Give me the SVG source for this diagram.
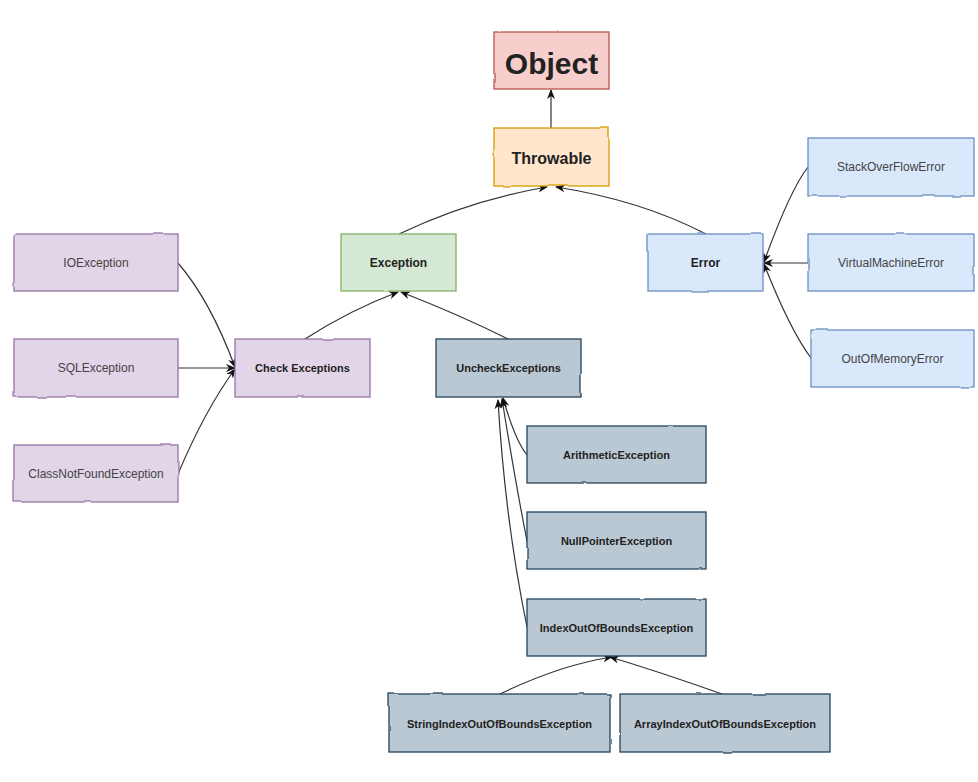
<svg xmlns="http://www.w3.org/2000/svg" width="978" height="782" viewBox="0 0 978 782">
<style>
.n{stroke-width:1.3;filter:url(#rough)}
.pink{fill:#f8cecc;stroke:#b85450}
.orange{fill:#ffe6cc;stroke:#d79b00}
.green{fill:#d5e8d4;stroke:#82b366}
.blue{fill:#dae8fc;stroke:#6c8ebf}
.purple{fill:#e1d5e7;stroke:#9673a6}
.slate{fill:#bac8d3;stroke:#23445d}
text{font-family:"Liberation Sans",Arial,sans-serif;fill:#222;text-anchor:middle;dominant-baseline:central}
.b{font-weight:bold;font-size:11px}
.r{font-size:12px;fill:#444}
.e path{fill:none;stroke:#333;stroke-width:1.2;marker-end:url(#arr)}
</style>
<defs>
<filter id="rough" x="-5%" y="-5%" width="110%" height="110%">
<feTurbulence type="fractalNoise" baseFrequency="0.035" numOctaves="1" seed="3"/>
<feDisplacementMap in="SourceGraphic" scale="2.5"/>
</filter>
<marker id="arr" viewBox="0 0 10 8" refX="9" refY="4" markerWidth="10" markerHeight="8" markerUnits="userSpaceOnUse" orient="auto">
<path d="M0,0 L10,4 L0,8 L3,4 z" fill="#111"/>
</marker>
</defs>
<rect width="978" height="782" fill="#fff"/>
<g class="e" id="connectors">
<path d="M551,128 L551,90"/>
<path d="M399,234 Q470,200 547,187"/>
<path d="M706,234 Q640,200 556,187"/>
<path d="M178,263 Q210,300 235,367"/>
<path d="M178,368 L235,368"/>
<path d="M178,474 Q205,410 235,369"/>
<path d="M305,339 Q350,310 398,292"/>
<path d="M508,339 Q460,315 401,292"/>
<path d="M527,455 Q515,440 503,398"/>
<path d="M527,541 Q515,480 502,399"/>
<path d="M527,627 Q505,520 498,400"/>
<path d="M500,694 Q560,665 612,657"/>
<path d="M722,694 Q660,672 610,657"/>
<path d="M808,167 Q790,190 764,262"/>
<path d="M808,263 L764,263"/>
<path d="M811,358 Q790,330 764,264"/>
</g>
<g id="object"><rect class="n pink" x="494" y="32" width="115" height="57"/><text x="551.5" y="63" style="font-weight:bold;font-size:30px">Object</text></g>
<g id="throwable"><rect class="n orange" x="494" y="128" width="115" height="58"/><text x="551.5" y="158" style="font-weight:bold;font-size:16px">Throwable</text></g>
<g id="exception"><rect class="n green" x="341" y="234" width="115" height="57"/><text class="b" x="398.5" y="263" style="font-size:12px">Exception</text></g>
<g id="error"><rect class="n blue" x="648" y="234" width="115" height="57"/><text class="b" x="705.5" y="263" style="font-size:12px">Error</text></g>
<g id="ioexception"><rect class="n purple" x="14" y="234" width="164" height="57"/><text class="r" x="96" y="263">IOException</text></g>
<g id="sqlexception"><rect class="n purple" x="14" y="339" width="164" height="58"/><text class="r" x="96" y="368">SQLException</text></g>
<g id="classnotfound"><rect class="n purple" x="14" y="445" width="164" height="57"/><text class="r" x="96" y="474">ClassNotFoundException</text></g>
<g id="checkexceptions"><rect class="n purple" x="235" y="339" width="135" height="58"/><text class="b" x="302.5" y="368">Check Exceptions</text></g>
<g id="uncheckexceptions"><rect class="n slate" x="436" y="339" width="145" height="58"/><text class="b" x="508.5" y="368">UncheckExceptions</text></g>
<g id="arithmetic"><rect class="n slate" x="527" y="426" width="179" height="57"/><text class="b" x="616.5" y="455">ArithmeticException</text></g>
<g id="nullpointer"><rect class="n slate" x="527" y="512" width="179" height="57"/><text class="b" x="616.5" y="541">NullPointerException</text></g>
<g id="indexoutofbounds"><rect class="n slate" x="527" y="599" width="179" height="57"/><text class="b" x="616.5" y="628">IndexOutOfBoundsException</text></g>
<g id="stringindex"><rect class="n slate" x="389" y="694" width="221" height="58"/><text class="b" x="499.5" y="724">StringIndexOutOfBoundsException</text></g>
<g id="arrayindex"><rect class="n slate" x="620" y="694" width="210" height="58"/><text class="b" x="725" y="724">ArrayIndexOutOfBoundsException</text></g>
<g id="stackoverflow"><rect class="n blue" x="808" y="138" width="166" height="58"/><text class="r" x="891" y="167">StackOverFlowError</text></g>
<g id="virtualmachine"><rect class="n blue" x="808" y="234" width="166" height="57"/><text class="r" x="891" y="263">VirtualMachineError</text></g>
<g id="outofmemory"><rect class="n blue" x="811" y="330" width="163" height="57"/><text class="r" x="892.5" y="359">OutOfMemoryError</text></g>
</svg>
